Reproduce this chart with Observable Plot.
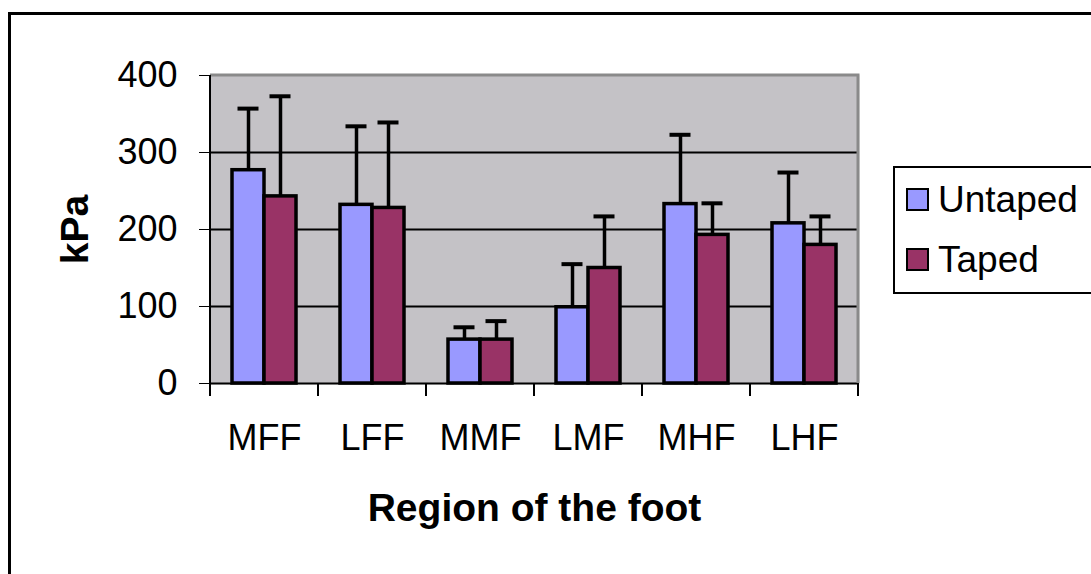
<!DOCTYPE html>
<html><head><meta charset="utf-8">
<script src="https://cdn.jsdelivr.net/npm/d3@7"></script>
<script src="https://cdn.jsdelivr.net/npm/@observablehq/plot@0.6"></script>
<style>
html,body{margin:0;padding:0;background:#fff;overflow:hidden;width:1091px;height:574px}
#wrap{position:relative;width:1091px;height:574px;font-family:Arial,"Liberation Sans",sans-serif;overflow:hidden}
#border{position:absolute;left:8px;top:12px;width:1200px;height:700px;border:3px solid #000;box-sizing:border-box}
#chart{position:absolute;left:0;top:0}
#legend{position:absolute;left:893px;top:166px;width:300px;height:128px;border:2px solid #000;box-sizing:border-box;background:#fff}
.item{position:absolute;left:11px;display:flex;align-items:center;font-size:37px;line-height:36px;color:#000}
.sw{width:19px;height:19px;border:2.5px solid #000;margin-right:9px}
</style></head>
<body>
<div id="wrap">
  <div id="border"></div>
  <div id="chart"></div>
  <div id="legend"></div>
</div>
<script>
const regions = ["MFF","LFF","MMF","LMF","MHF","LHF"];
const series = ["Untaped","Taped"];
const colors = ["#9999ff","#993366"];
const untaped = [277,232,57,99,233,208];
const taped = [243,228,57,150,193,180];
const untapedErr = [80,102,16,56,90,66];
const tapedErr = [130,111,24,67,41,37];
const yTicks = [0,100,200,300,400];
const gridLines = [100,200,300];

const rows = [];
regions.forEach((r,i) => {
  rows.push({region:r, series:"Untaped", value:untaped[i], upper:untaped[i]+untapedErr[i]});
  rows.push({region:r, series:"Taped", value:taped[i], upper:taped[i]+tapedErr[i]});
});

const plot = Plot.plot({
  width: 1091, height: 574,
  marginLeft: 208, marginRight: 231, marginTop: 75, marginBottom: 191,
  style: {fontFamily: "Arial, 'Liberation Sans', sans-serif", fontSize: "36px", color: "#000", background: "transparent", overflow: "visible"},
  fx: {domain: regions, padding: 0, label: "Region of the foot", labelAnchor: "center", labelArrow: false, labelOffset: 137, tickSize: 0, tickPadding: 41, axis: "bottom"},
  x: {domain: series, paddingInner: 0, paddingOuter: 0.645, axis: null},
  y: {domain: [0,400], ticks: yTicks, tickSize: 11, tickPadding: 22, label: "kPa", labelAnchor: "center", labelArrow: false, labelOffset: 150},
  color: {domain: series, range: colors},
  marks: [
    Plot.frame({fill: "#c4c2c6", stroke: "#c4c2c6", strokeWidth: 1.5}),
    Plot.ruleY(gridLines, {stroke: "#000", strokeWidth: 2}),
    Plot.ruleX(rows, {fx: "region", x: "series", y1: "value", y2: "upper", stroke: "#000", strokeWidth: 3.5}),
    Plot.tickY(rows, {fx: "region", x: "series", y: "upper", stroke: "#000", strokeWidth: 4, inset: 5.5}),
    Plot.barY(rows, {fx: "region", x: "series", y: "value", fill: "series", stroke: "#000", strokeWidth: 3.5}),
    Plot.ruleY([0], {stroke: "#000", strokeWidth: 2})
  ]
});
document.getElementById("chart").appendChild(plot);

const svg = d3.select(plot);
svg.selectAll('g[aria-label$="axis label"]').attr("font-weight", "bold").attr("font-size", "39px");
svg.selectAll('g[aria-label$="axis label"] text').each(function() {
  const t = d3.select(this);
  const tx = t.text().replace(/\s*[↑→←↓]\s*/g, "");
  if (t.selectAll("tspan").empty()) t.text(tx);
});
const fx = plot.scale("fx"), y = plot.scale("y");
const y0 = y.apply(0), yTop = y.apply(400);
const starts = regions.map(r => fx.apply(r));
const xEnd = starts[starts.length - 1] + fx.bandwidth;
const g = svg.append("g").attr("aria-label", "frame edges");
g.append("path").attr("d", `M${starts[0]},${yTop}H${xEnd}V${y0}`)
  .attr("fill", "none").attr("stroke", "#8a8a8a").attr("stroke-width", 3);
g.append("line").attr("x1", starts[0]).attr("x2", starts[0]).attr("y1", yTop).attr("y2", y0)
  .attr("stroke", "#000").attr("stroke-width", 2);
g.selectAll("line.cat").data([...starts, xEnd]).join("line").attr("class", "cat")
  .attr("x1", d => d).attr("x2", d => d).attr("y1", y0).attr("y2", y0 + 13)
  .attr("stroke", "#000").attr("stroke-width", 2);

const legend = d3.select("#legend");
series.forEach((s, i) => {
  const it = legend.append("div").attr("class", "item").style("top", (13.5 + i * 60) + "px");
  it.append("div").attr("class", "sw").style("background", colors[i]);
  it.append("span").text(s);
});
</script>
</body></html>
